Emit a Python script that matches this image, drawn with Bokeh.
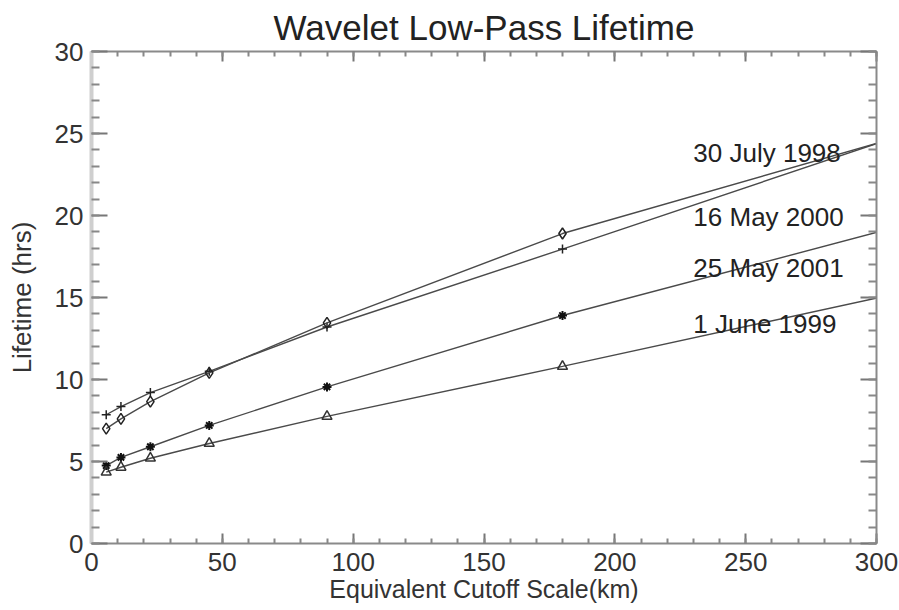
from bokeh.plotting import figure
from bokeh.models import LinearAxis, Range1d, SingleIntervalTicker, CustomLabelingPolicy
from bokeh.embed import file_html
from bokeh.resources import INLINE
from bokeh.core.properties import value

# Equivalent cutoff scale (km); the last point lies beyond the plotted range
scale_km = [5.625, 11.25, 22.5, 45, 90, 180, 360]
life_plus = [7.85, 8.35, 9.2, 10.5, 13.2, 17.95, 27.6]
life_diamond = [7.0, 7.6, 8.65, 10.4, 13.45, 18.9, 27.15]
life_asterisk = [4.75, 5.25, 5.9, 7.2, 9.55, 13.9, 21.5]
life_triangle = [4.35, 4.65, 5.2, 6.1, 7.75, 10.8, 17.05]

label_text = ["30 July 1998", "16 May 2000", "25 May 2001", "1 June 1999"]
label_x = [230, 230, 230, 230]
label_y = [23.8, 19.9, 16.8, 13.4]

FONT = "Liberation Sans"
AX = "#8a8a8a"

p = figure(width=899, height=610, output_backend="svg", toolbar_location=None,
           x_range=Range1d(0, 300), y_range=Range1d(0, 30),
           title="Wavelet Low-Pass Lifetime",
           min_border_left=91, min_border_right=23, min_border_top=51, min_border_bottom=67)
p.outline_line_color = None
p.xgrid.visible = False
p.ygrid.visible = False
p.background_fill_color = "white"
p.border_fill_color = "white"

p.title.text_font = FONT
p.title.text_font_size = "35px"
p.title.text_font_style = "normal"
p.title.text_color = "#222222"
p.title.align = "center"
p.title.standoff = 2

xt = SingleIntervalTicker(interval=50, num_minor_ticks=5)
yt = SingleIntervalTicker(interval=5, num_minor_ticks=5)

xa = p.xaxis[0]
xa.ticker = xt
xa.axis_label = "Equivalent Cutoff Scale(km)"
ya = p.yaxis[0]
ya.ticker = yt
ya.axis_label = "Lifetime (hrs)"

hide_all = CustomLabelingPolicy(code="""
for (const i of indices)
  indices.unset(i)
""")
top = LinearAxis(ticker=xt, major_label_policy=hide_all)
right = LinearAxis(ticker=yt, major_label_policy=hide_all)
p.add_layout(top, "above")
p.add_layout(right, "right")

for ax in (xa, top):
    ax.major_tick_in = 10
    ax.major_tick_out = 0
    ax.minor_tick_in = 5
    ax.minor_tick_out = 0
for ax in (ya, right):
    ax.major_tick_in = 16
    ax.major_tick_out = 0
    ax.minor_tick_in = 8
    ax.minor_tick_out = 0

for ax in (xa, ya, top, right):
    ax.axis_line_color = AX
    ax.axis_line_width = 2
    ax.major_tick_line_color = "#777777"
    ax.minor_tick_line_color = "#888888"
    ax.major_tick_line_width = 2
    ax.minor_tick_line_width = 2
    ax.major_label_text_font = FONT
    ax.major_label_text_font_size = "26px"
    ax.major_label_text_color = "#333333"
    ax.axis_label_text_font = FONT
    ax.axis_label_text_font_size = "26px"
    ax.axis_label_text_font_style = "normal"
    ax.axis_label_text_color = "#333333"

ya.axis_line_color = "#cfcfcf"
ya.axis_line_width = 4

for ax in (top, right):
    ax.major_label_text_font_size = "1px"
    ax.major_label_standoff = 0

xa.axis_label_text_font_size = "25px"
xa.major_label_standoff = 9
xa.axis_label_standoff = 1
ya.major_label_standoff = 8
ya.axis_label_standoff = 15

LC = "#4a4a4a"
LW = 1.4

p.line(scale_km, life_plus, line_color=LC, line_width=LW)
p.scatter(scale_km, life_plus, marker="cross", size=9, line_color="#222222", line_width=1.5)

p.line(scale_km, life_diamond, line_color=LC, line_width=LW)
p.scatter(scale_km, life_diamond, marker="diamond", size=11, fill_color=None,
          line_color="#222222", line_width=1.5)

p.line(scale_km, life_asterisk, line_color=LC, line_width=LW)
p.scatter(scale_km, life_asterisk, marker="asterisk", size=9, line_color="#111111", line_width=2)

p.line(scale_km, life_triangle, line_color=LC, line_width=LW)
p.scatter(scale_km, life_triangle, marker="triangle", size=10, fill_color=None,
          line_color="#333333", line_width=1.5)

p.text(x=label_x, y=label_y, text=label_text, text_font=value(FONT),
       text_font_size="26px", text_baseline="alphabetic", text_align="left",
       text_color="#222222")

open("out.html", "w").write(file_html(p, INLINE))
